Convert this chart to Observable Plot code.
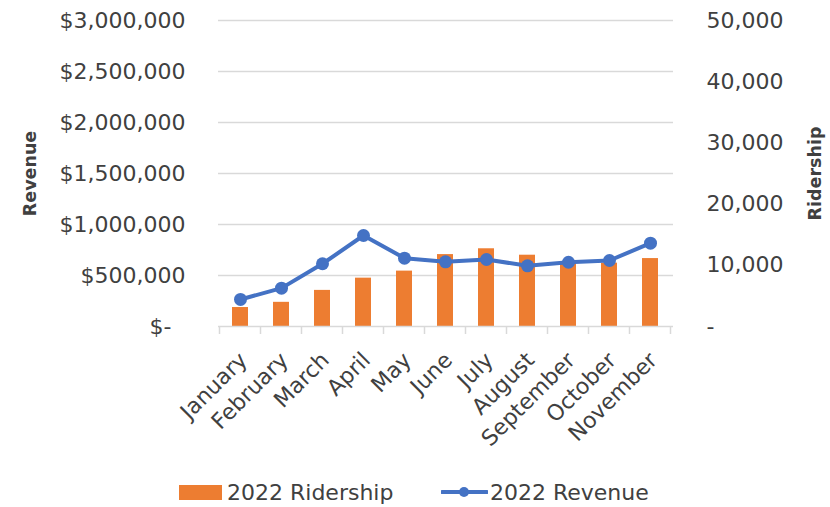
<!DOCTYPE html>
<html>
<head>
<meta charset="utf-8">
<script src="https://cdn.jsdelivr.net/npm/d3@7"></script>
<script src="https://cdn.jsdelivr.net/npm/@observablehq/plot@0.6"></script>
<style>
  html, body { margin: 0; padding: 0; background: #fff; }
  #wrap { position: relative; width: 830px; height: 507px; font-family: "DejaVu Sans", sans-serif; color: #404040; }
  #legend { position: absolute; left: 0; top: 478px; width: 830px; height: 28px; font-size: 22px; }
  .item { position: absolute; top: 0; height: 28px; display: flex; align-items: center; white-space: nowrap; }
</style>
</head>
<body>
<div id="wrap">
  <div id="chart"></div>
  <div id="legend"></div>
</div>
<script>
// ---- data ----
const months = ["January","February","March","April","May","June","July","August","September","October","November"];
const ridership = [3100, 3950, 5900, 7900, 9050, 11750, 12700, 11650, 10350, 10350, 11100];
const revenue = [265000, 376000, 615000, 892000, 670000, 634000, 657000, 595000, 630000, 647000, 817000];
const revenueTicks = [0, 500000, 1000000, 1500000, 2000000, 2500000, 3000000];
const ridershipTicks = [0, 10000, 20000, 30000, 40000, 50000];
const seriesNames = ["2022 Ridership", "2022 Revenue"];
const axisTitles = ["Revenue", "Ridership"];

const ratio = revenueTicks[revenueTicks.length - 1] / ridershipTicks[ridershipTicks.length - 1];
const rows = months.map((m, i) => ({month: m, ridership: ridership[i], rideScaled: ridership[i] * ratio, revenue: revenue[i]}));

const orange = "#ED7D31", blue = "#4472C4", grid = "#D9D9D9", ink = "#404040";
const fmt = d3.format(",");

const W = 830, H = 470, mL = 218, mR = 157, mT = 20, mB = H - 326;

const chart = Plot.plot({
  width: W, height: H,
  marginLeft: mL, marginRight: mR, marginTop: mT, marginBottom: mB,
  style: {fontFamily: "DejaVu Sans, sans-serif", fontSize: "22px", color: ink, background: "#fff"},
  x: {type: "band", domain: months, paddingInner: 0.6, paddingOuter: 0.3, axis: null},
  y: {domain: [0, revenueTicks[revenueTicks.length - 1]], axis: null},
  marks: [
    Plot.ruleY(revenueTicks.slice(1), {stroke: grid, strokeWidth: 1.3}),
    Plot.barY(rows, {x: "month", y: "rideScaled", fill: orange}),
    Plot.ruleY([0], {stroke: grid, strokeWidth: 1.5}),
    Plot.line(rows, {x: "month", y: "revenue", stroke: blue, strokeWidth: 4, strokeLinejoin: "round"}),
    Plot.dot(rows, {x: "month", y: "revenue", r: 6.5, fill: blue, stroke: "none"}),
    Plot.axisY(revenueTicks, {anchor: "left", tickSize: 0, tickPadding: 33, fill: ink,
      tickFormat: d => d === 0 ? "$-\u00a0\u00a0" : "$" + fmt(d)}),
    Plot.axisY(ridershipTicks.map(t => t * ratio), {anchor: "right", tickSize: 0, tickPadding: 33, fill: ink,
      tickFormat: d => d === 0 ? "-" : fmt(d / ratio)}),
    Plot.text(months, {x: d => d, frameAnchor: "bottom", rotate: -45, textAnchor: "end", lineAnchor: "middle",
      dx: 3, dy: 30, fill: ink, fontSize: 22}),
    Plot.text([axisTitles[0]], {frameAnchor: "left", textAnchor: "middle", dx: -188, rotate: -90, fontWeight: "bold", fontSize: 17.5, fill: ink}),
    Plot.text([axisTitles[1]], {frameAnchor: "right", textAnchor: "middle", dx: 142, rotate: -90, fontWeight: "bold", fontSize: 17.5, fill: ink})
  ]
});
document.getElementById("chart").appendChild(chart);

// band boundary tick marks below the category axis, placed from Plot's x scale
const xs = chart.scale("x");
const ys = chart.scale("y");
const y0 = ys.apply(0);
const half = (xs.step - xs.bandwidth) / 2;
const bounds = months.map(m => xs.apply(m) - half).concat([xs.apply(months[months.length - 1]) + xs.bandwidth + half]);
const g = d3.select(chart).append("g").attr("stroke", grid).attr("stroke-width", 1.5);
bounds.forEach(b => g.append("line").attr("x1", b).attr("x2", b).attr("y1", y0).attr("y2", y0 + 8));

// legend
const legend = d3.select("#legend");
const it1 = legend.append("div").attr("class", "item").style("left", "179px");
it1.append("span").style("display", "inline-block").style("width", "43px").style("height", "15px").style("background", orange).style("margin-right", "5px");
it1.append("span").text(seriesNames[0]);
const it2 = legend.append("div").attr("class", "item").style("left", "441px");
const sw = it2.append("svg").attr("width", 47).attr("height", 14).style("margin-right", "2px");
sw.append("line").attr("x1", 1).attr("x2", 46).attr("y1", 7).attr("y2", 7).attr("stroke", blue).attr("stroke-width", 4).attr("stroke-linecap", "round");
sw.append("circle").attr("cx", 23).attr("cy", 7).attr("r", 5).attr("fill", blue);
it2.append("span").text(seriesNames[1]);
</script>
</body>
</html>
